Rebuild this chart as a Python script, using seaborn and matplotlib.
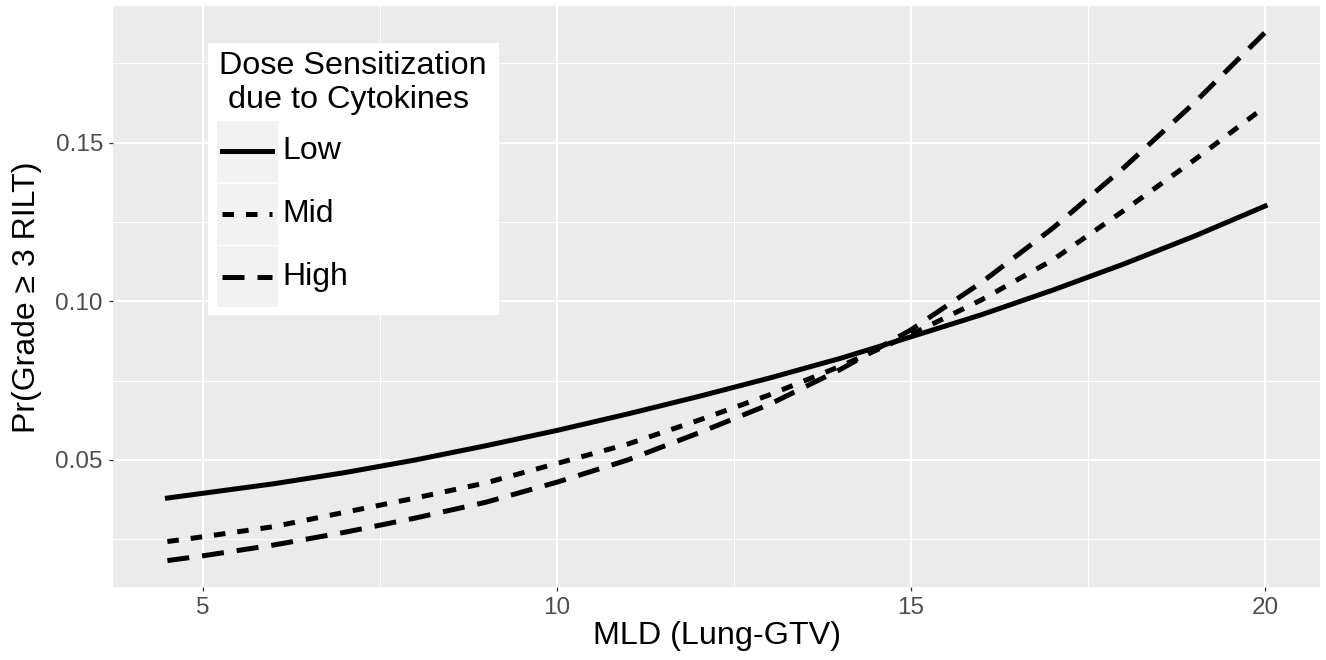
import numpy as np
import pandas as pd
import matplotlib
matplotlib.use("Agg")
import matplotlib.pyplot as plt
import seaborn as sns
from matplotlib.lines import Line2D
from matplotlib.patches import Rectangle

# Values
mld = [4.5, 5, 6, 7, 8, 9, 10, 11, 12, 13, 14, 15, 16, 17, 18, 19, 20]
low = [0.0380, 0.0395, 0.0425, 0.0460, 0.0500, 0.0545, 0.0593, 0.0645, 0.0700,
       0.0758, 0.0820, 0.0888, 0.0958, 0.1035, 0.1117, 0.1205, 0.1300]
mid = [0.0243, 0.0258, 0.0290, 0.0335, 0.0380, 0.0428, 0.0489, 0.0550, 0.0625,
       0.0705, 0.0795, 0.0895, 0.1005, 0.1130, 0.1285, 0.1445, 0.1613]
high = [0.0183, 0.0198, 0.0232, 0.0272, 0.0317, 0.0367, 0.0430, 0.0500, 0.0585,
        0.0675, 0.0785, 0.0910, 0.1060, 0.1230, 0.1420, 0.1625, 0.1847]
levels = ["Low", "Mid", "High"]
x_ticks = [5, 10, 15, 20]
y_ticks = [0.05, 0.10, 0.15]
y_ticklabels = ["0.05", "0.10", "0.15"]

df = pd.DataFrame({
    "mld": mld * 3,
    "prob": low + mid + high,
    "level": np.repeat(levels, len(mld)),
})

W, H = 1326, 660
fig = plt.figure(figsize=(W / 100, H / 100), dpi=100)
plt.rcParams["font.family"] = ["Liberation Sans", "DejaVu Sans"]

# panel placement in pixels
left, right, top, bottom = 112.5, 1320, 6, 587
ax = fig.add_axes([left / W, 1 - bottom / H, (right - left) / W, (bottom - top) / H])
ax.set_facecolor("#EBEBEB")

lw = 3.6
dash_map = {"Low": "", "Mid": (2.3, 2.4), "High": (4.4, 2.6)}
sns.lineplot(data=df, x="mld", y="prob", style="level", dashes=dash_map,
             color="black", linewidth=lw, legend=False, ax=ax)

# ggplot style expansion of 5%
xr = max(mld) - min(mld)
ax.set_xlim(min(mld) - 0.05 * xr, max(mld) + 0.05 * xr)
yall = low + mid + high
yr = max(yall) - min(yall)
ax.set_ylim(min(yall) - 0.05 * yr, max(yall) + 0.05 * yr)

ax.set_xticks(x_ticks)
ax.set_yticks(y_ticks)
ax.set_yticklabels(y_ticklabels)
ax.set_xticks([7.5, 12.5, 17.5], minor=True)
ax.set_yticks([0.025, 0.075, 0.125, 0.175], minor=True)
ax.grid(which="major", color="white", linewidth=1.5)
ax.grid(which="minor", color="white", linewidth=0.75)
ax.set_axisbelow(True)
for s in ax.spines.values():
    s.set_visible(False)
ax.tick_params(which="major", length=2.9, width=0.9, color="#333333",
               labelcolor="#4D4D4D", labelsize=17.5, pad=4)
ax.tick_params(which="minor", length=0)

ax.set_xlabel("")
ax.set_ylabel("")
fig.text(717 / W, 1 - 636 / H, "MLD (Lung-GTV)", ha="center", va="center",
         fontsize=23.3, color="black")
fig.text(27 / W, 1 - 297 / H, "Pr(Grade \u2265 3 RILT)", ha="center", va="center",
         rotation=90, fontsize=23, color="black")

# legend drawn by hand to mimic ggplot keys
def fx(x):
    return x / W

def fy(y):
    return 1 - y / H

fig.add_artist(Rectangle((fx(208), fy(315)), fx(499) - fx(208), fy(43) - fy(315),
                         transform=fig.transFigure, facecolor="white",
                         edgecolor="none", zorder=5))
fig.text(fx(353), fy(66), "Dose Sensitization", ha="center", va="center",
         fontsize=23.3, zorder=6)
fig.text(fx(349), fy(100), "due to Cytokines", ha="center", va="center",
         fontsize=23.3, zorder=6)
key_tops = [121, 183.5, 246]
key_h = 61
for lev, kt in zip(levels, key_tops):
    fig.add_artist(Rectangle((fx(217), fy(kt + key_h)), fx(277.5) - fx(217),
                             fy(kt) - fy(kt + key_h), transform=fig.transFigure,
                             facecolor="#F2F2F2", edgecolor="none", zorder=6))
    yc = kt + key_h / 2
    ln = Line2D([fx(222), fx(272)], [fy(yc), fy(yc)], transform=fig.transFigure,
                color="black", linewidth=lw, zorder=7)
    if dash_map[lev]:
        ln.set_dashes(dash_map[lev])
    fig.add_artist(ln)
    fig.text(fx(282), fy(yc), lev, ha="left", va="center", fontsize=23, zorder=7)

fig.savefig("out.png", dpi=100)
